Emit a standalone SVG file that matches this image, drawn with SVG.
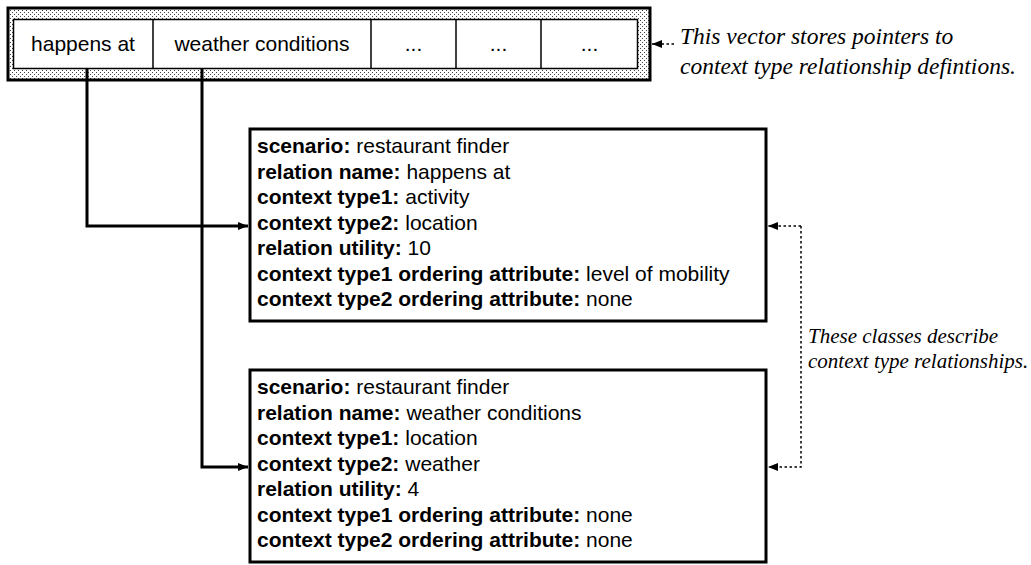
<svg xmlns="http://www.w3.org/2000/svg" width="1031" height="565" viewBox="0 0 1031 565">
<defs>
  <pattern id="dots" width="4" height="4" patternUnits="userSpaceOnUse">
    <rect width="4" height="4" fill="#fff"/>
    <rect x="0" y="0" width="1" height="1" fill="#444"/>
    <rect x="2" y="2" width="1" height="1" fill="#444"/>
  </pattern>
  <marker id="arr" viewBox="0 0 10 8" refX="10" refY="4" markerWidth="10" markerHeight="8" markerUnits="userSpaceOnUse" orient="auto">
    <path d="M0,0 L10,4 L0,8 Z" fill="#000"/>
  </marker>
  <marker id="arrs" viewBox="0 0 10 8" refX="10" refY="4" markerWidth="10" markerHeight="8" markerUnits="userSpaceOnUse" orient="auto">
    <path d="M0,0 L10,4 L0,8 Z" fill="#000"/>
  </marker>
</defs>
<style>
  .cell { font-family: "Liberation Sans", Arial, sans-serif; font-size: 21px; fill: #000; text-anchor: middle; }
  .box { fill: #fff; stroke: #000; stroke-width: 3; }
  .txt { font-family: "Liberation Sans", Arial, sans-serif; font-size: 21px; fill: #000; }
  .txt tspan.b { font-weight: bold; }
  .note { font-family: "Liberation Serif", "Times New Roman", serif; font-style: italic; font-size: 21px; fill: #000; }
  .note.big { font-size: 23.5px; }
  .conn { fill: none; stroke: #000; stroke-width: 3; }
  .dot { fill: none; stroke: #000; stroke-width: 1.5; stroke-dasharray: 2.5 2.5; }
</style>

<g id="vector">
  <rect x="8" y="8" width="642" height="72" fill="url(#dots)" stroke="#000" stroke-width="3"/>
  <rect x="13.5" y="19.5" width="624" height="49" fill="#fff" stroke="#000" stroke-width="1.5"/>
  <line x1="153" y1="19.5" x2="153" y2="68.5" stroke="#000" stroke-width="1.5"/>
  <line x1="371" y1="19.5" x2="371" y2="68.5" stroke="#000" stroke-width="1.5"/>
  <line x1="456" y1="19.5" x2="456" y2="68.5" stroke="#000" stroke-width="1.5"/>
  <line x1="541" y1="19.5" x2="541" y2="68.5" stroke="#000" stroke-width="1.5"/>
  <text class="cell" x="83" y="51">happens at</text>
  <text class="cell" x="262" y="51">weather conditions</text>
  <text class="cell" x="413.5" y="51">...</text>
  <text class="cell" x="498.5" y="51">...</text>
  <text class="cell" x="589.5" y="51">...</text>
</g>

<g id="note-vector">
  <text class="note big" x="680" y="44">This vector stores pointers to</text>
  <text class="note big" x="680" y="74">context type relationship defintions.</text>
</g>

<g id="box1">
  <rect class="box" x="250" y="129" width="516" height="192"/>
  <text class="txt" x="257" y="153"><tspan class="b">scenario:</tspan> restaurant finder</text>
  <text class="txt" x="257" y="178.5"><tspan class="b">relation name:</tspan> happens at</text>
  <text class="txt" x="257" y="204"><tspan class="b">context type1:</tspan> activity</text>
  <text class="txt" x="257" y="229.5"><tspan class="b">context type2:</tspan> location</text>
  <text class="txt" x="257" y="255"><tspan class="b">relation utility:</tspan> 10</text>
  <text class="txt" x="257" y="280.5"><tspan class="b">context type1 ordering attribute:</tspan> level of mobility</text>
  <text class="txt" x="257" y="306"><tspan class="b">context type2 ordering attribute:</tspan> none</text>
</g>

<g id="box2">
  <rect class="box" x="250" y="370" width="516" height="192"/>
  <text class="txt" x="257" y="394"><tspan class="b">scenario:</tspan> restaurant finder</text>
  <text class="txt" x="257" y="419.5"><tspan class="b">relation name:</tspan> weather conditions</text>
  <text class="txt" x="257" y="445"><tspan class="b">context type1:</tspan> location</text>
  <text class="txt" x="257" y="470.5"><tspan class="b">context type2:</tspan> weather</text>
  <text class="txt" x="257" y="496"><tspan class="b">relation utility:</tspan> 4</text>
  <text class="txt" x="257" y="521.5"><tspan class="b">context type1 ordering attribute:</tspan> none</text>
  <text class="txt" x="257" y="547"><tspan class="b">context type2 ordering attribute:</tspan> none</text>
</g>

<g id="note-classes">
  <text class="note" x="808" y="343">These classes describe</text>
  <text class="note" x="808" y="368">context type relationships.</text>
</g>

<g id="connectors">
  <path class="conn" d="M87,68 V226 H248" marker-end="url(#arr)"/>
  <path class="conn" d="M202,68 V467 H248" marker-end="url(#arr)"/>
  <path class="dot" d="M674,44 H652" marker-end="url(#arrs)"/>
  <path class="dot" d="M801,226 H768" marker-end="url(#arrs)"/>
  <path class="dot" d="M801,226 V467 H768" marker-end="url(#arrs)"/>
</g>
</svg>
